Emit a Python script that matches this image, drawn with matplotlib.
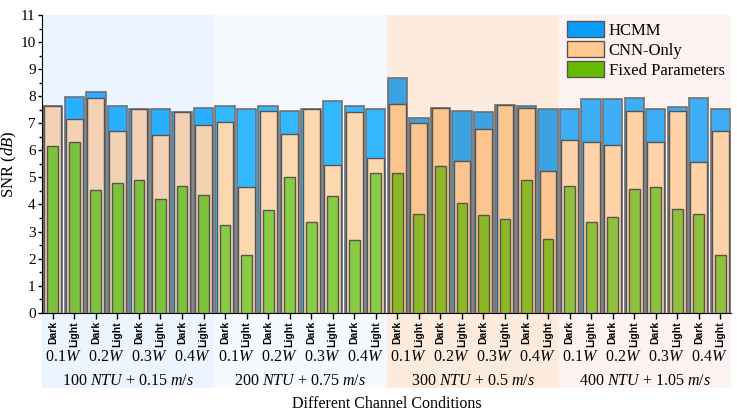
import numpy as np
import matplotlib
matplotlib.use("Agg")
import matplotlib.pyplot as plt
from matplotlib.patches import Patch, Rectangle
from matplotlib.ticker import MultipleLocator
import matplotlib.transforms as mtransforms

plt.rcParams["font.family"] = "Liberation Serif"
plt.rcParams["mathtext.fontset"] = "custom"
plt.rcParams["mathtext.rm"] = "Liberation Serif"
plt.rcParams["mathtext.it"] = "Liberation Serif:italic"

# Datos (4 condiciones x 4 potencias x Dark/Light)
condiciones = [r"100 $\mathit{NTU}$ + 0.15 $\mathit{m/s}$",
               r"200 $\mathit{NTU}$ + 0.75 $\mathit{m/s}$",
               r"300 $\mathit{NTU}$ + 0.5 $\mathit{m/s}$",
               r"400 $\mathit{NTU}$ + 1.05 $\mathit{m/s}$"]
potencias = [r"0.1$\mathit{W}$", r"0.2$\mathit{W}$", r"0.3$\mathit{W}$", r"0.4$\mathit{W}$"]
luz = ["Dark", "Light"]

hcmm = [7.65, 7.98, 8.17, 7.63, 7.54, 7.54, 7.42, 7.58,
        7.62, 7.54, 7.63, 7.44, 7.54, 7.82, 7.64, 7.53,
        8.69, 7.20, 7.57, 7.45, 7.41, 7.68, 7.63, 7.54,
        7.54, 7.90, 7.89, 7.93, 7.52, 7.59, 7.93, 7.53]
cnn_only = [7.65, 7.15, 7.93, 6.73, 7.54, 6.57, 7.42, 6.92,
            7.05, 4.64, 7.47, 6.61, 7.53, 5.45, 7.41, 5.73,
            7.71, 7.01, 7.56, 5.62, 6.79, 7.66, 7.55, 5.23,
            6.38, 6.30, 6.21, 7.45, 6.31, 7.45, 5.57, 6.73]
fixed = [6.15, 6.29, 4.54, 4.80, 4.89, 4.20, 4.68, 4.34,
         3.26, 2.15, 3.78, 5.00, 3.34, 4.31, 2.68, 5.18,
         5.18, 3.65, 5.44, 4.04, 3.61, 3.45, 4.89, 2.72,
         4.70, 3.36, 3.54, 4.59, 4.63, 3.82, 3.64, 2.15]

# Colores por grupo (fondo y barras)
fondo = ["#EBF4FF", "#F6FAFF", "#FDEBDD", "#FCF3F2"]
col_hcmm = ["#2AAEFF", "#33B8FF", "#3DA2E0", "#3DAEF5"]
col_cnn = ["#F2D2B2", "#FCD8B0", "#FCC58E", "#FFD2A8"]
col_fixed = ["#7DC23A", "#88CC44", "#8DB825", "#90C03C"]

n = len(hcmm)
x = np.arange(n)
grupo = x // 8

fig = plt.figure(figsize=(7.37, 4.17), dpi=100)
ax = fig.add_axes([0.057, 0.25, 0.935, 0.714])

trans = mtransforms.blended_transform_factory(ax.transData, ax.transAxes)
for g in range(4):
    ax.add_patch(Rectangle((8 * g - 0.5, -0.253), 8, 1.253, transform=trans,
                           facecolor=fondo[g], edgecolor="none", zorder=0, clip_on=False))

ax.bar(x, hcmm, width=0.9, color=[col_hcmm[g] for g in grupo],
       edgecolor="#707070", linewidth=1.2, zorder=2)
ax.bar(x, cnn_only, width=0.78, color=[col_cnn[g] for g in grupo],
       edgecolor="#555555", linewidth=1.0, zorder=3)
ax.bar(x, fixed, width=0.5, color=[col_fixed[g] for g in grupo],
       edgecolor="#555555", linewidth=1.0, zorder=4)

ax.set_xlim(-0.5, n - 0.5)
ax.set_ylim(0, 11)
ax.yaxis.set_major_locator(MultipleLocator(1))
ax.yaxis.set_minor_locator(MultipleLocator(0.5))
ax.set_xticks(x)
ax.set_xticklabels([luz[i % 2] for i in x], rotation=90, fontsize=7.5,
                   fontweight="bold", family="Liberation Sans")
ax.tick_params(axis="x", length=4, width=1, pad=2)
ax.tick_params(axis="y", which="major", length=3, width=1, labelsize=11, pad=1.5)
ax.tick_params(axis="y", which="minor", length=2, width=1)
ax.spines["top"].set_visible(False)
ax.spines["right"].set_visible(False)
ax.set_ylabel(r"SNR ($\mathit{dB}$)", fontsize=12, labelpad=1)

for g in range(4):
    for p in range(4):
        ax.text(8 * g + 2 * p + 0.5, -0.149, potencias[p], transform=trans,
                ha="center", va="center", fontsize=11.5)
    ax.text(8 * g + 3.5, -0.229, condiciones[g], transform=trans,
            ha="center", va="center", fontsize=11.5)
ax.text(0.5, -0.306, "Different Channel Conditions", transform=ax.transAxes,
        ha="center", va="center", fontsize=11.5)

handles = [Patch(facecolor="#0A9EF8", edgecolor="#555555", label="HCMM"),
           Patch(facecolor="#FFCA90", edgecolor="#555555", label="CNN-Only"),
           Patch(facecolor="#66BB00", edgecolor="#555555", label="Fixed Parameters")]
ax.legend(handles=handles, loc="upper left", bbox_to_anchor=(0.762, 0.98),
          frameon=False, fontsize=12, handlelength=2.2, handleheight=1.1,
          labelspacing=0.15, handletextpad=0.3, borderpad=0, borderaxespad=0)

fig.savefig("out.png", dpi=100)
